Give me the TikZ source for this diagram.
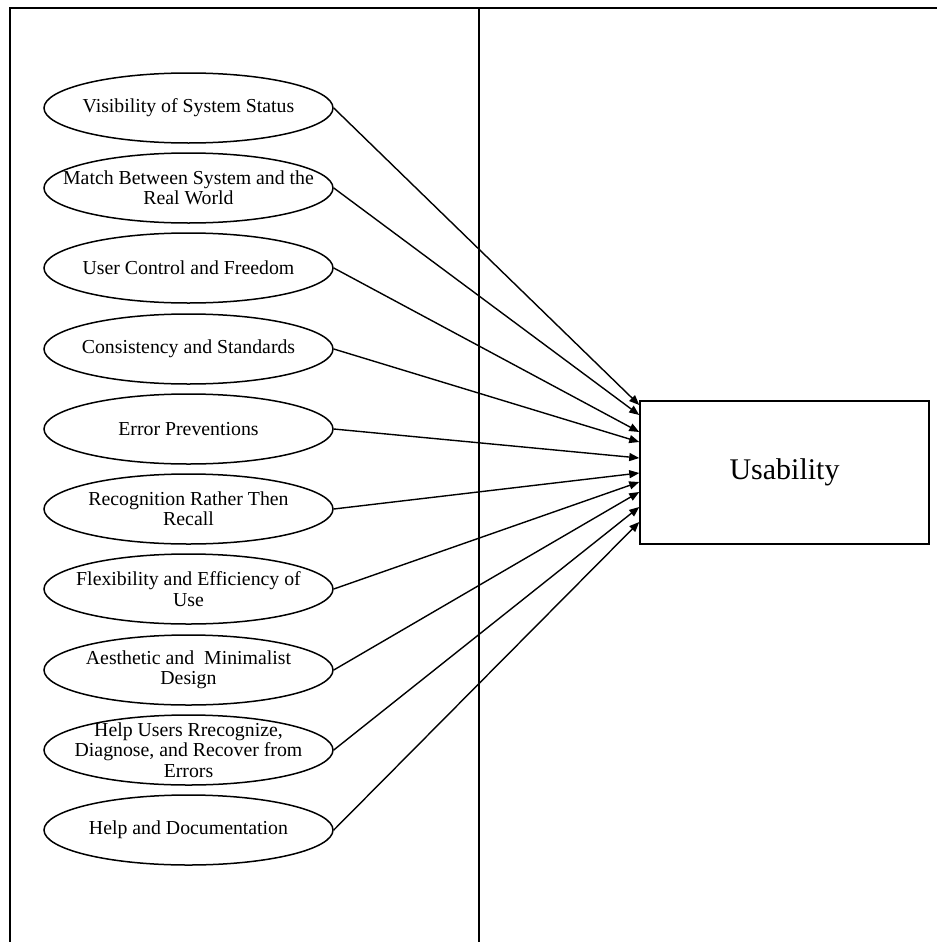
\documentclass[tikz,border=0pt]{standalone}
\usepackage{fontspec}
\setmainfont{Liberation Serif}
\usetikzlibrary{shapes.geometric,arrows.meta}

\begin{document}
\begin{tikzpicture}[x=0.5pt,y=-0.5pt,
  heur/.style={ellipse,draw,line width=0.75pt,minimum width=144.5pt,minimum height=35pt,inner sep=0pt},
  heurtext/.style={align=center,inner sep=0pt,font=\fontsize{9.9}{10.2}\selectfont},
  goal/.style={draw,line width=0.75pt,minimum width=144.5pt,minimum height=71.5pt,inner sep=0pt,font=\fontsize{15}{18}\selectfont},
  link/.style={line width=0.7pt,-{Triangle[length=5pt,width=4pt]}}]
\useasboundingbox (0,0) rectangle (937,942);
% frame
\draw[line width=1pt] (10,942) -- (10,7.5) -- (937,7.5);
\draw[line width=1pt] (479,7.5) -- (479,942);
% heuristics
\node[heur] (e1) at (188.5,108) {};  \node[heurtext] (l1) at (e1.center) {Visibility of System Status};
\node[heur] (e2) at (188.5,188) {};  \node[heurtext] (l2) at (e2.center) {Match Between System and the\\Real World};
\node[heur] (e3) at (188.5,268) {};  \node[heurtext] (l3) at (e3.center) {User Control and Freedom};
\node[heur] (e4) at (188.5,349) {};  \node[heurtext] (l4) at (e4.center) {Consistency and Standards};
\node[heur] (e5) at (188.5,429) {};  \node[heurtext] (l5) at (e5.center) {Error Preventions};
\node[heur] (e6) at (188.5,509) {};  \node[heurtext] (l6) at (e6.center) {Recognition Rather Then\\Recall};
\node[heur] (e7) at (188.5,589) {};  \node[heurtext] (l7) at (e7.center) {Flexibility and Efficiency of\\Use};
\node[heur] (e8) at (188.5,670) {};  \node[heurtext] (l8) at (e8.center) {Aesthetic and~ Minimalist\\Design};
\node[heur] (e9) at (188.5,750) {};  \node[heurtext] (l9) at (e9.center) {Help Users Rrecognize,\\Diagnose, and Recover from\\Errors};
\node[heur] (e10) at (188.5,830) {}; \node[heurtext] (l10) at (e10.center) {Help and Documentation};
% target
\node[goal] (usab) at (784.5,472.5) {Usability};
\foreach \i/\y in {1/405,2/415,3/432,4/442,5/458,6/473,7/482,8/492,9/507,10/522}
  \draw[link] (e\i.east) -- (usab.west |- 0,\y);
\end{tikzpicture}
\end{document}
